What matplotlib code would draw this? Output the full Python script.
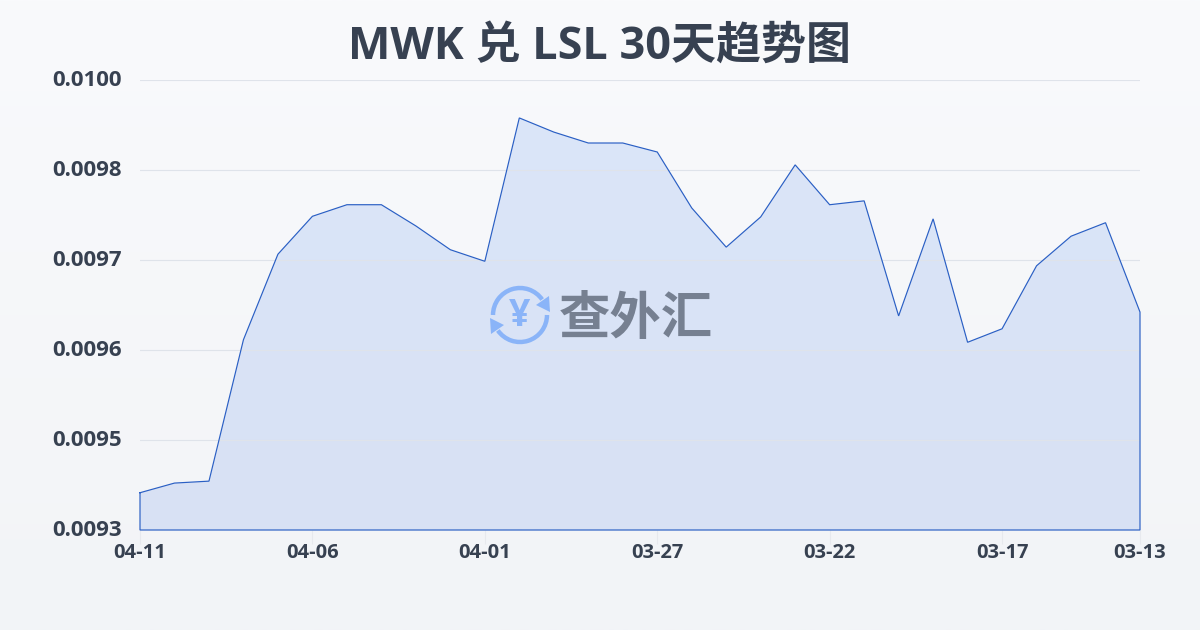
import matplotlib
matplotlib.use('Agg')
import matplotlib.pyplot as plt
from matplotlib.patches import Arc, Polygon
from matplotlib.colors import LinearSegmentedColormap
from matplotlib.transforms import ScaledTranslation
import numpy as np

plt.rcParams['font.family'] = ['Open Sans', 'Noto Sans CJK SC', 'DejaVu Sans']

title = 'MWK 兑 LSL 30天趋势图'
dates = ['04-11', '04-10', '04-09', '04-08', '04-07', '04-06', '04-05', '04-04', '04-03', '04-02',
         '04-01', '03-31', '03-30', '03-29', '03-28', '03-27', '03-26', '03-25', '03-24', '03-23',
         '03-22', '03-21', '03-20', '03-19', '03-18', '03-17', '03-16', '03-15', '03-14', '03-13']
rates = [0.009358, 0.009373, 0.009376, 0.009596, 0.009729, 0.009788, 0.009806, 0.009806, 0.009773, 0.009736,
         0.009718, 0.009941, 0.009919, 0.009902, 0.009902, 0.009888, 0.009801, 0.009740, 0.009787, 0.009868,
         0.009806, 0.009812, 0.009633, 0.009784, 0.009592, 0.009613, 0.009711, 0.009757, 0.009778, 0.009639]
y_ticks = [0.0093, 0.00944, 0.00958, 0.00972, 0.00986, 0.0100]
y_labels = ['0.0093', '0.0095', '0.0096', '0.0097', '0.0098', '0.0100']
x_ticks = [0, 5, 10, 15, 20, 25, 29]

text_col = '#374151'

fig = plt.figure(figsize=(12, 6.3), dpi=100)

# page background, light vertical gradient
bg = fig.add_axes([0, 0, 1, 1], zorder=0)
bg.imshow(np.linspace(0, 1, 256).reshape(-1, 1), aspect='auto', extent=[0, 1, 0, 1],
          cmap=LinearSegmentedColormap.from_list('bg', ['#f9fafc', '#f2f4f7']))
bg.axis('off')

ax = fig.add_axes([140 / 1200, 100 / 630, 1000 / 1200, 450 / 630], zorder=1)
ax.patch.set_alpha(0)
x = np.arange(len(dates))
ax.set_xlim(0, len(dates) - 1)
ax.set_ylim(y_ticks[0], y_ticks[-1])

# area fill fades a little towards the bottom
area = Polygon(list(zip(x, rates)) + [(x[-1], y_ticks[0]), (0, y_ticks[0])], transform=ax.transData, fc='none', lw=0)
ax.add_patch(area)
img = ax.imshow(np.linspace(0, 1, 256).reshape(-1, 1), aspect='auto',
                extent=[0, len(dates) - 1, y_ticks[0], y_ticks[-1]], zorder=1,
                cmap=LinearSegmentedColormap.from_list('fill', ['#dbe6f9', '#d8e1f4']))
img.set_clip_path(area)

ax.plot(list(x) + [x[-1], 0, 0], rates + [y_ticks[0], y_ticks[0], rates[0]],
        color='#2a5fc4', lw=0.85, zorder=3, clip_on=False, solid_joinstyle='miter')
ax.set_xticks(x_ticks)
ax.set_xticklabels([dates[i] for i in x_ticks], fontsize=14.5, fontweight='bold', color=text_col)
ax.set_yticks(y_ticks)
ax.set_yticklabels(y_labels, fontsize=16, fontweight='bold', color=text_col)
ax.tick_params(axis='y', length=0, pad=13)
ax.tick_params(axis='x', length=10, width=0.8, color='#e7e9ee', pad=-1)
ax.grid(axis='y', color='#dfe3ea', lw=0.8, zorder=2)
for s in ax.spines.values():
    s.set_visible(False)
# labels sit a touch above their grid lines
for lbl in ax.get_yticklabels():
    lbl.set_transform(lbl.get_transform() + ScaledTranslation(0, 2 / 100, fig.dpi_scale_trans))

fig.text(0.5, 1 - 47 / 630, title, ha='center', va='center', fontsize=32.4, fontweight='bold', color=text_col)

# watermark logo, drawn in pixel coordinates
wm = fig.add_axes([0, 0, 1, 1], zorder=2)
wm.set_xlim(0, 1200)
wm.set_ylim(630, 0)
wm.axis('off')
logo = '#8ab4f8'
wm.add_patch(Arc((520, 315), 54, 54, theta1=180, theta2=325, color=logo, lw=3.2))
wm.add_patch(Arc((520, 315), 54, 54, theta1=0, theta2=145, color=logo, lw=3.2))
wm.add_patch(Polygon([[549, 296], [550, 312], [536, 305]], color=logo, lw=0))
wm.add_patch(Polygon([[491, 334], [490, 318], [504, 325]], color=logo, lw=0))
wm.text(520, 316, '¥', ha='center', va='center', fontsize=27, fontweight='bold', color=logo)
wm.text(636, 321, '查外汇', ha='center', va='center', fontsize=37, fontweight='bold', color='#768091')

fig.savefig('out.png', dpi=100)
